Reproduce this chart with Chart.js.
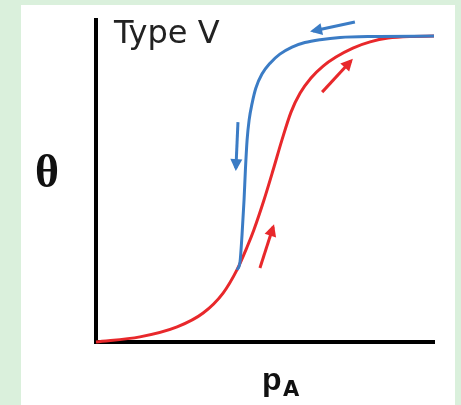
<!DOCTYPE html>
<html>
<head>
<meta charset="utf-8">
<script src="https://cdn.jsdelivr.net/npm/chart.js@4"></script>
<style>
  html, body { margin: 0; padding: 0; }
  body { width: 461px; height: 405px; background: #daf0dc; position: relative; overflow: hidden; }
  #panel { position: absolute; left: 21px; top: 5px; width: 434px; height: 400px; background: #ffffff; }
  #c { position: absolute; left: 0; top: 0; }
</style>
</head>
<body>
<div id="panel"></div>
<canvas id="c" width="461" height="405"></canvas>
<script>
// Adsorption branch (red), pressure p_A (0-100) vs coverage theta (0-100)
const adsorptionX = [0, 13.0, 24.0, 31.7, 37.6, 41.7, 44.7, 46.7, 49.7, 52.4, 55.0, 57.7, 60.4, 63.6, 67.2, 71.0, 76.0, 81.1, 86.4, 92.9, 100];
const adsorptionY = [0, 1.6, 4.7, 9.0, 15.2, 22.4, 29.5, 34.8, 44.1, 53.4, 62.7, 71.4, 77.3, 82.0, 85.7, 88.5, 91.3, 93.2, 94.4, 94.9, 95.0];
// Desorption branch (blue)
const desorptionX = [41.7, 42.6, 43.2, 43.8, 44.2, 44.7, 45.3, 46.2, 47.3, 49.1, 51.5, 54.4, 58.0, 61.8, 66.3, 72.2, 81.1, 100];
const desorptionY = [22.4, 24.8, 33.2, 44.1, 53.4, 62.7, 68.9, 74.2, 78.9, 83.2, 86.6, 89.4, 91.6, 93.0, 93.9, 94.6, 94.9, 95.0];
// Direction arrows: [x tail, y tail, x tip, y tip]
const arrowBlueTop = [76.6, 99.4, 64.2, 96.6];
const arrowBlueDown = [42.0, 68.3, 41.4, 54.0];
const arrowRedTop = [66.9, 77.6, 75.4, 87.3];
const arrowRedLow = [48.5, 23.0, 52.4, 35.7];
// Text labels
const titleText = 'Type V';
const yLabel = 'θ';
const xLabelMain = 'p';
const xLabelSub = 'A';

const RED = '#e8282b';
const BLUE = '#3b7cc5';

function pts(xs, ys) { return xs.map((x, i) => ({ x: x, y: ys[i] })); }
function arrowPts(a) { return [{ x: a[0], y: a[1] }, { x: a[2], y: a[3] }]; }

function curve(data, color) {
  return { data: data, borderColor: color, borderWidth: 3, pointRadius: 0, showLine: true,
           cubicInterpolationMode: 'monotone', fill: false, clip: false };
}
function arrow(a, color) {
  return { data: arrowPts(a), borderColor: color, backgroundColor: color, borderWidth: 3,
           pointRadius: 0, showLine: true, tension: 0, fill: false, clip: false, arrow: true };
}

const arrowHeads = {
  id: 'arrowHeads',
  afterDatasetsDraw(chart) {
    const ctx = chart.ctx;
    chart.data.datasets.forEach((ds, i) => {
      if (!ds.arrow) return;
      const p = chart.getDatasetMeta(i).data;
      const a = p[p.length - 2], b = p[p.length - 1];
      const ang = Math.atan2(b.y - a.y, b.x - a.x);
      const c = Math.cos(ang), s = Math.sin(ang);
      const tx = b.x + 3 * c, ty = b.y + 3 * s;
      const L = 12, W = 6;
      ctx.save();
      ctx.fillStyle = ds.borderColor;
      ctx.beginPath();
      ctx.moveTo(tx, ty);
      ctx.lineTo(tx - L * c + W * s, ty - L * s - W * c);
      ctx.lineTo(tx - L * c - W * s, ty - L * s + W * c);
      ctx.closePath();
      ctx.fill();
      ctx.restore();
    });
  }
};

const labels = {
  id: 'labels',
  afterDraw(chart) {
    const ctx = chart.ctx;
    const ca = chart.chartArea;
    ctx.save();
    ctx.textBaseline = 'alphabetic';
    ctx.fillStyle = '#222222';
    ctx.textAlign = 'left';
    ctx.font = '32px "DejaVu Sans", sans-serif';
    ctx.fillText(titleText, ca.left + 18, ca.top + 23);
    ctx.fillStyle = '#111111';
    ctx.textAlign = 'center';
    ctx.font = 'bold 46px "Liberation Serif", "Times New Roman", serif';
    ctx.fillText(yLabel, 47, 187);
    ctx.textAlign = 'left';
    ctx.font = 'bold 32px "Liberation Sans", Arial, sans-serif';
    ctx.fillText(xLabelMain, 262, 390);
    ctx.font = 'bold 21px "DejaVu Sans", sans-serif';
    ctx.fillText(xLabelSub, 283, 396);
    ctx.restore();
  }
};

const axisOpts = {
  type: 'linear', min: 0, max: 100, display: true,
  grid: { display: false, drawTicks: false, drawOnChartArea: false },
  ticks: { display: false },
  border: { display: true, color: '#000000', width: 4 },
  title: { display: false }
};

new Chart(document.getElementById('c'), {
  type: 'scatter',
  data: {
    datasets: [
      curve(pts(desorptionX, desorptionY), BLUE),
      curve(pts(adsorptionX, adsorptionY), RED),
      arrow(arrowBlueTop, BLUE),
      arrow(arrowBlueDown, BLUE),
      arrow(arrowRedTop, RED),
      arrow(arrowRedLow, RED)
    ]
  },
  options: {
    responsive: false,
    animation: false,
    layout: { padding: { left: 96, right: 27, top: 20, bottom: 63 } },
    plugins: { legend: { display: false }, tooltip: { enabled: false } },
    scales: { x: axisOpts, y: Object.assign({}, axisOpts) }
  },
  plugins: [arrowHeads, labels]
});
</script>
</body>
</html>
